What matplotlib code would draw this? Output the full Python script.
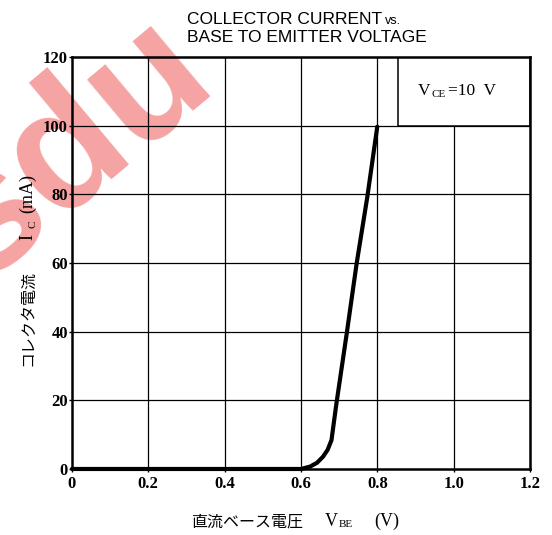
import numpy as np
import matplotlib
matplotlib.use('Agg')
from matplotlib import pyplot as plt
from matplotlib.patches import Rectangle

# curve
vbe = [0.0, 0.60, 0.624, 0.642, 0.658, 0.670, 0.680, 0.693, 0.720, 0.746, 0.774, 0.800]
ic = [0.0, 0.0, 0.7, 1.8, 3.6, 5.6, 8.4, 19.1, 39.5, 59.9, 79.3, 99.7]

xticks = [0, 0.2, 0.4, 0.6, 0.8, 1.0, 1.2]
xlabels = ['0', '0.2', '0.4', '0.6', '0.8', '1.0', '1.2']
yticks = [0, 20, 40, 60, 80, 100, 120]

SERIF = ['Liberation Serif', 'DejaVu Serif']
JP = ['Noto Sans CJK JP', 'DejaVu Sans']
SANS = ['Liberation Sans', 'DejaVu Sans']

fig = plt.figure(figsize=(5.52, 5.35), dpi=100)
ax = fig.add_axes([0.1304, 0.1234, 0.8296, 0.7701])
ax.patch.set_facecolor('none')

# watermark
fig.text(0.130, 0.722, 'sdu', rotation=40, fontsize=125, fontweight='bold',
         color='#f5a3a3', ha='center', va='center', zorder=-1, family=SANS)

ax.set_xlim(0, 1.2)
ax.set_ylim(0, 120)

# grid, drawn by hand so the condition box can cover it
for x in xticks[1:-1]:
    ax.axvline(x, color='black', lw=0.9, zorder=1)
for y in yticks[1:-1]:
    ax.axhline(y, color='black', lw=0.9, zorder=1)

ax.add_patch(Rectangle((0.854, 100), 1.2 - 0.854, 20, facecolor='white',
                       edgecolor='black', lw=1.1, zorder=2))
ax.text(0.906, 110, 'V', fontsize=12.5, family=SERIF, ha='left', va='center', zorder=3)
ax.text(0.942, 109.0, 'CE', fontsize=8, family=SERIF, ha='left', va='center', zorder=3)
ax.text(0.985, 110, '=10  V', fontsize=12.5, family=SERIF, ha='left', va='center', zorder=3)

ax.plot(vbe, ic, color='black', lw=3.0, solid_capstyle='round', zorder=4, clip_on=False)

for s in ax.spines.values():
    s.set_linewidth(1.8)

ax.set_xticks(xticks)
ax.set_xticklabels(xlabels)
ax.set_yticks(yticks)
ax.tick_params(axis='x', direction='out', length=2, width=1, pad=3)
ax.tick_params(axis='y', direction='out', length=2, width=1, pad=1)
for lab in ax.get_xticklabels() + ax.get_yticklabels():
    lab.set_family(SERIF)
    lab.set_fontweight('bold')
    lab.set_fontsize(12)

# title
fig.text(0.338, 0.963, 'COLLECTOR CURRENT', fontsize=12.5, family=SANS, va='center')
fig.text(0.698, 0.960, 'vs.', fontsize=9, family=SANS, va='center')
fig.text(0.338, 0.930, 'BASE TO EMITTER VOLTAGE', fontsize=12.5, family=SANS, va='center')

# x label
fig.text(0.448, 0.025, '直流ベース電圧', fontsize=11.5, family=JP, ha='center', va='center')
fig.text(0.600, 0.025, 'V', fontsize=13, family=SERIF, ha='center', va='center')
fig.text(0.614, 0.019, 'BE', fontsize=8, family=SERIF, ha='left', va='center')
fig.text(0.700, 0.025, '(V)', fontsize=13, family=SERIF, ha='center', va='center')

# y label (vertical)
fig.text(0.050, 0.406, 'コレクタ電流', fontsize=11.5, family=JP, rotation=90, ha='center', va='center')
fig.text(0.050, 0.557, 'I', fontsize=13, family=SERIF, rotation=90, ha='center', va='center')
fig.text(0.059, 0.581, 'C', fontsize=8, family=SERIF, rotation=90, ha='center', va='center')
fig.text(0.050, 0.639, '(mA)', fontsize=13, family=SERIF, rotation=90, ha='center', va='center')

fig.savefig('out.png', dpi=100)
